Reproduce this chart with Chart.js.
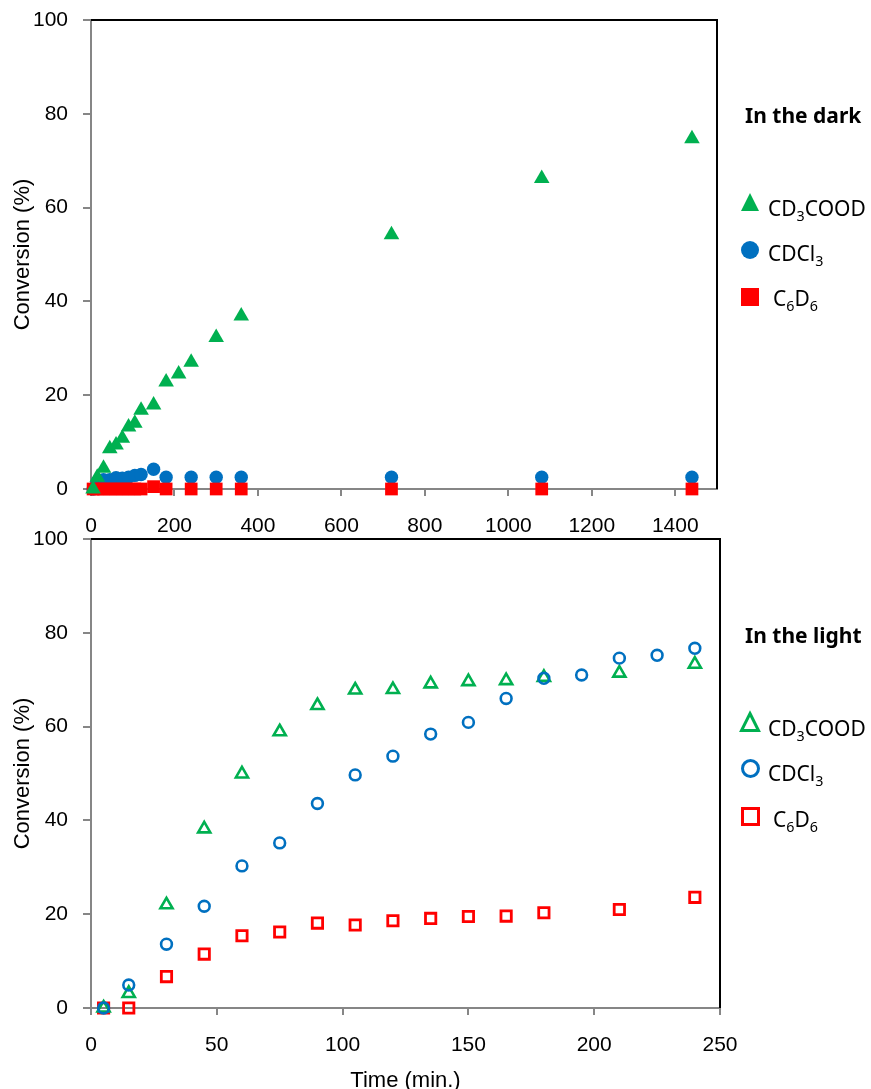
<!DOCTYPE html>
<html>
<head>
<meta charset="utf-8">
<title>Conversion in the dark and in the light</title>
<script src="https://cdn.jsdelivr.net/npm/chart.js@4.4.1/dist/chart.umd.min.js"></script>
<style>
  html, body { margin: 0; padding: 0; background: #fff; }
  body { width: 871px; height: 1089px; position: relative; overflow: hidden; }
  .panel { position: absolute; left: 0; width: 871px; }
  #darkBox { top: 0; height: 545px; }
  #lightBox { top: 525px; height: 570px; }
  .legend { position: absolute; left: 0; top: 0; font-family: 'Noto Sans', sans-serif; color: #000; }
  .legend div { position: absolute; white-space: nowrap; line-height: 24px; font-size: 21px; }
  .legend .ttl { font-weight: bold; }
  .legend svg { position: absolute; overflow: visible; }
  sub { font-size: 0.68em; vertical-align: -0.36em; line-height: 0; }
</style>
</head>
<body>
<div class="panel" id="darkBox"><canvas id="darkChart" width="871" height="545"></canvas></div>
<div class="panel" id="lightBox"><canvas id="lightChart" width="871" height="570"></canvas></div>
<div class="legend" id="legendBox"></div>

<script>
'use strict';

// ---- data ----

// series names (html for the legend, plain for the library)
const seriesNames = ['CD<sub>3</sub>COOD', 'CDCl<sub>3</sub>', 'C<sub>6</sub>D<sub>6</sub>'];
const seriesLabels = ['CD\u2083COOD', 'CDCl\u2083', 'C\u2086D\u2086'];

// top panel: in the dark (time in min)
const darkTimeAcid = [5, 15, 30, 45, 60, 75, 90, 105, 120, 150, 180, 210, 240, 300, 360, 720, 1080, 1440];
const darkAcid = [0, 2.5, 4.4, 8.6, 9.4, 10.8, 13.2, 14.0, 16.8, 17.9, 22.8, 24.5, 27.0, 32.3, 36.9, 54.2, 66.2, 74.7];

const darkTimeOther = [5, 15, 30, 45, 60, 75, 90, 105, 120, 150, 180, 240, 300, 360, 720, 1080, 1440];
const darkChloroform = [0, 1.5, 2.0, 2.0, 2.4, 2.3, 2.5, 2.9, 3.1, 4.2, 2.5, 2.5, 2.5, 2.5, 2.5, 2.5, 2.5];
const darkBenzene = [0, 0, 0, 0, 0, 0, 0, 0, 0, 0.5, 0, 0, 0, 0, 0, 0, 0];

// bottom panel: in the light
const lightTimeAll = [5, 15, 30, 45, 60, 75, 90, 105, 120, 135, 150, 165, 180, 195, 210, 225, 240];
const lightChloroform = [0, 4.9, 13.6, 21.7, 30.3, 35.2, 43.6, 49.7, 53.7, 58.4, 60.9, 66.0, 70.3, 71.0, 74.6, 75.2, 76.7];

const lightTime = [5, 15, 30, 45, 60, 75, 90, 105, 120, 135, 150, 165, 180, 210, 240];
const lightAcid = [0, 3.1, 22.0, 38.2, 49.9, 58.9, 64.5, 67.8, 67.9, 69.1, 69.6, 69.8, 70.5, 71.4, 73.3];
const lightBenzene = [0, 0, 6.7, 11.5, 15.4, 16.2, 18.1, 17.7, 18.6, 19.1, 19.5, 19.6, 20.3, 21.0, 23.6];

// axis ticks
const yTicks = { min: 0, max: 100, step: 20 };
const darkX = { min: 0, max: 1500, step: 200 };
const lightX = { min: 0, max: 250, step: 50 };

const yTitle = 'Conversion (%)';
const xTitle = 'Time (min.)';
const darkTitle = 'In the dark';
const lightTitle = 'In the light';

// ---- look ----
const GREEN = '#00B050';
const BLUE = '#0070C0';
const RED = '#FF0000';
const AXIS = '#868686';
const FONT = "'Liberation Sans', Arial, sans-serif";

function pairs(xs, ys) {
    return xs.map((x, i) => ({ x: x, y: ys[i] }));
}

// black frame on top and right of the plot area
const frame = {
    id: 'frame',
    beforeDatasetsDraw(chart) {
        const { ctx, chartArea: a } = chart;
        ctx.save();
        ctx.strokeStyle = '#000';
        ctx.lineWidth = 2;
        ctx.beginPath();
        ctx.moveTo(a.left, a.top);
        ctx.lineTo(a.right, a.top);
        ctx.lineTo(a.right, a.bottom);
        ctx.stroke();
        ctx.restore();
    }
};

function makeOptions(xr, pad, xHeight, showXTitle) {
    return {
        responsive: false,
        animation: false,
        layout: { padding: pad },
        plugins: { legend: { display: false }, tooltip: { enabled: false } },
        scales: {
            x: {
                type: 'linear',
                min: xr.min,
                max: xr.max,
                afterFit: (s) => { s.height = xHeight; s.paddingRight = 0; },
                grid: { drawOnChartArea: false, drawTicks: true, tickLength: 7, color: AXIS, lineWidth: 2 },
                border: { color: AXIS, width: 2 },
                ticks: {
                    stepSize: xr.step,
                    includeBounds: false,
                    padding: 18,
                    color: '#000',
                    font: { family: FONT, size: 21 },
                    callback: (v) => String(v)
                },
                title: {
                    display: showXTitle,
                    text: xTitle,
                    color: '#000',
                    padding: { top: 0, bottom: 1 },
                    font: { family: FONT, size: 22 }
                }
            },
            y: {
                min: yTicks.min,
                max: yTicks.max,
                // keep the plot top where the padding puts it
                afterFit: (s) => { s.width = 91; s.paddingTop = 0; s.paddingBottom = 0; },
                grid: { drawOnChartArea: false, drawTicks: true, tickLength: 8, color: AXIS, lineWidth: 2 },
                border: { color: AXIS, width: 2 },
                ticks: {
                    stepSize: yTicks.step,
                    padding: 15,
                    color: '#000',
                    font: { family: FONT, size: 21 }
                },
                title: {
                    display: true,
                    text: yTitle,
                    color: '#000',
                    padding: { top: 10, bottom: 0 },
                    font: { family: FONT, size: 22 }
                }
            }
        }
    };
}

// in the dark: filled markers
let darkChart = new Chart(document.getElementById('darkChart'), {
    type: 'scatter',
    data: {
        datasets: [
            {
                label: seriesLabels[0], data: pairs(darkTimeAcid, darkAcid), order: 0, clip: false,
                pointStyle: 'triangle', pointRadius: 9, backgroundColor: GREEN, borderColor: GREEN, borderWidth: 0
            },
            {
                label: seriesLabels[1], data: pairs(darkTimeOther, darkChloroform), order: 2, clip: false,
                pointStyle: 'circle', pointRadius: 6.7, backgroundColor: BLUE, borderColor: BLUE, borderWidth: 0
            },
            {
                label: seriesLabels[2], data: pairs(darkTimeOther, darkBenzene), order: 1, clip: false,
                pointStyle: 'rect', pointRadius: 9, backgroundColor: RED, borderColor: RED, borderWidth: 0
            }
        ]
    },
    options: makeOptions(darkX, { left: 0, top: 20, right: 154, bottom: 0 }, 56, false),
    plugins: [frame]
});

// in the light: hollow markers
let lightChart = new Chart(document.getElementById('lightChart'), {
    type: 'scatter',
    data: {
        datasets: [
            {
                label: seriesLabels[0], data: pairs(lightTime, lightAcid), order: 1, clip: false,
                pointStyle: 'triangle', pointRadius: 7, backgroundColor: 'rgba(0,0,0,0)', borderColor: GREEN, borderWidth: 2.6
            },
            {
                label: seriesLabels[1], data: pairs(lightTimeAll, lightChloroform), order: 0, clip: false,
                pointStyle: 'circle', pointRadius: 5.4, backgroundColor: 'rgba(0,0,0,0)', borderColor: BLUE, borderWidth: 2.6
            },
            {
                label: seriesLabels[2], data: pairs(lightTime, lightBenzene), order: 2, clip: false,
                pointStyle: 'rect', pointRadius: 7.3, backgroundColor: 'rgba(0,0,0,0)', borderColor: RED, borderWidth: 2.8
            }
        ]
    },
    options: makeOptions(lightX, { left: 0, top: 14, right: 151, bottom: 0 }, 87, true),
    plugins: [frame]
});

// ---- html legends, built from the datasets ----
function markerSvg(ds, cx, cy, size) {
    let filled = ds.borderWidth === 0;
    let sw = filled ? 0 : 3;
    let fill = filled ? ds.backgroundColor : 'none';
    let h = size / 2;
    let shape;
    if (ds.pointStyle === 'triangle') {
        shape = `<polygon points="${h},${sw / 2} ${size - sw / 2},${size - sw / 2} ${sw / 2},${size - sw / 2}" fill="${fill}" stroke="${ds.borderColor}" stroke-width="${sw}" stroke-linejoin="miter"/>`;
    } else if (ds.pointStyle === 'circle') {
        shape = `<circle cx="${h}" cy="${h}" r="${h - sw / 2}" fill="${fill}" stroke="${ds.borderColor}" stroke-width="${sw}"/>`;
    } else {
        shape = `<rect x="${sw / 2}" y="${sw / 2}" width="${size - sw}" height="${size - sw}" fill="${fill}" stroke="${ds.borderColor}" stroke-width="${sw}"/>`;
    }
    return `<svg width="${size}" height="${size}" style="left:${cx - h}px;top:${cy - h}px">${shape}</svg>`;
}

function buildLegend(chart, title, titleY, rowMarkY, rowTextY, textX, size) {
    let box = document.getElementById('legendBox');
    let html = `<div class="ttl" style="left:745px;top:${titleY - 13}px">${title}</div>`;
    chart.data.datasets.forEach((ds, i) => {
        html += markerSvg(ds, 750, rowMarkY[i], size[i]);
        html += `<div style="left:${textX[i]}px;top:${rowTextY[i] - 13}px">${seriesNames[i]}</div>`;
    });
    box.insertAdjacentHTML('beforeend', html);
}

buildLegend(darkChart, darkTitle, 116, [202, 250, 297], [209, 254, 299], [768, 768, 773], [18, 18, 18]);
buildLegend(lightChart, lightTitle, 636, [722, 768, 816], [729, 774, 820], [768, 768, 773], [20, 19, 19]);
</script>
</body>
</html>
